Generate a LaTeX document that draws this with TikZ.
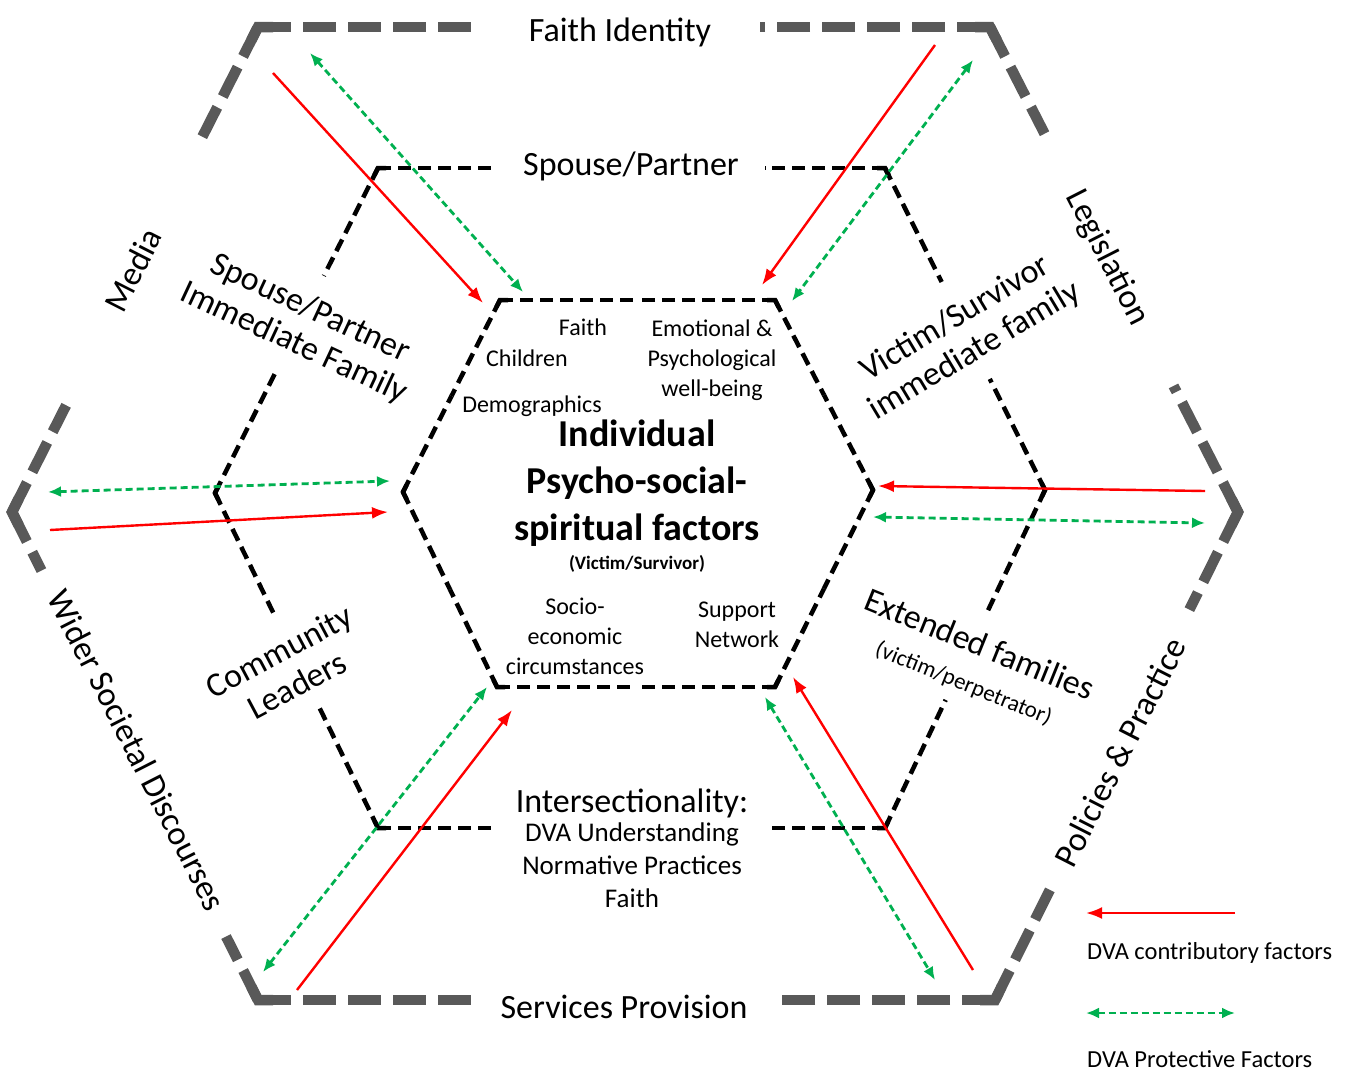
\documentclass[tikz,border=0pt]{standalone}
\usepackage{fontspec}
\setmainfont{Carlito}
\usepackage{tikz}
\usetikzlibrary{calc,arrows.meta}

\definecolor{hexgray}{HTML}{595959}
\definecolor{dvared}{HTML}{FF0000}
\definecolor{dvagreen}{HTML}{00B050}

\begin{document}
\begin{tikzpicture}[x=1pt,y=-1pt,>={Latex[length=16pt,width=12pt]},
						outerhex/.style={
							draw=hexgray,
							line width=10.5pt,
							dash pattern=on 33pt off 12pt
						},
						ringline/.style={
							draw=black,
							line width=4.5pt,
							dash pattern=on 13pt off 7pt
						},
						contrib/.style={->, draw=dvared, line width=2.4pt},
						protect/.style={<->, draw=dvagreen, line width=2.8pt,
							dash pattern=on 7pt off 4pt,
							>={Latex[length=13pt,width=11pt]}},
						ringtext/.style={
							inner sep=0pt,
							align=center,
							font=\fontsize{34}{38}\selectfont
						},
						coretext/.style={
							inner sep=0pt,
							align=center,
							font=\fontsize{24}{30}\selectfont
						},
						legendtext/.style={
							inner sep=0pt,
							anchor=west,
							font=\fontsize{24.5}{30}\selectfont
						}]

						\useasboundingbox [fill=white] (0,0) rectangle (1349,1071);

						%% Corners of the three hexagons
						\coordinate (oTL) at (258,27);
						\coordinate (oTR) at (990,27);
						\coordinate (oR)  at (1238,512);
						\coordinate (oBR) at (995,1000);
						\coordinate (oBL) at (258,1000);
						\coordinate (oL)  at (12,512);

						\coordinate (mTL) at (378,168);
						\coordinate (mTR) at (885,168);
						\coordinate (mR)  at (1045,490);
						\coordinate (mBR) at (885,828);
						\coordinate (mBL) at (378,828);
						\coordinate (mL)  at (215,493);

						\coordinate (iTL) at (500,300);
						\coordinate (iTR) at (775,300);
						\coordinate (iR)  at (873,490);
						\coordinate (iBR) at (775,687);
						\coordinate (iBL) at (497,687);
						\coordinate (iL)  at (403,492);

						%% Where the dashed sides stop (gaps for the labels)
						\coordinate (oTL-a) at ($(oL)!0.76!(oTL)$);
						\coordinate (oTL-b) at ($(oTL)!0.30!(oTR)$);
						\coordinate (oTR-a) at ($(oTL)!0.686!(oTR)$);
						\coordinate (oTR-b) at ($(oTR)!0.22!(oR)$);
						\coordinate (oR-a)  at ($(oTR)!0.74!(oR)$);
						\coordinate (oR-b)  at ($(oR)!0.20!(oBR)$);
						\coordinate (oBR-a) at ($(oR)!0.765!(oBR)$);
						\coordinate (oBR-b) at ($(oBR)!0.305!(oBL)$);
						\coordinate (oBL-a) at ($(oBR)!0.70!(oBL)$);
						\coordinate (oBL-b) at ($(oBL)!0.13!(oL)$);
						\coordinate (oL-a)  at ($(oBL)!0.88!(oL)$);
						\coordinate (oL-b)  at ($(oL)!0.22!(oTL)$);

						\coordinate (mTL-a) at ($(mL)!0.668!(mTL)$);
						\coordinate (mTL-b) at ($(mTL)!0.231!(mTR)$);
						\coordinate (mTR-a) at ($(mTL)!0.763!(mTR)$);
						\coordinate (mTR-b) at ($(mTR)!0.354!(mR)$);
						\coordinate (mR-a)  at ($(mTR)!0.655!(mR)$);
						\coordinate (mR-b)  at ($(mR)!0.373!(mBR)$);
						\coordinate (mBR-a) at ($(mR)!0.621!(mBR)$);
						\coordinate (mBR-b) at ($(mBR)!0.223!(mBL)$);
						\coordinate (mBL-a) at ($(mBR)!0.769!(mBL)$);
						\coordinate (mBL-b) at ($(mBL)!0.36!(mL)$);
						\coordinate (mL-a)  at ($(mBL)!0.636!(mL)$);
						\coordinate (mL-b)  at ($(mL)!0.38!(mTL)$);

						\coordinate (iTL-a) at ($(iL)!0.5!(iTL)$);
						\coordinate (iTL-b) at ($(iTL)!0.5!(iTR)$);
						\coordinate (iTR-a) at ($(iTL)!0.5!(iTR)$);
						\coordinate (iTR-b) at ($(iTR)!0.5!(iR)$);
						\coordinate (iR-a)  at ($(iTR)!0.5!(iR)$);
						\coordinate (iR-b)  at ($(iR)!0.5!(iBR)$);
						\coordinate (iBR-a) at ($(iR)!0.5!(iBR)$);
						\coordinate (iBR-b) at ($(iBR)!0.5!(iBL)$);
						\coordinate (iBL-a) at ($(iBR)!0.5!(iBL)$);
						\coordinate (iBL-b) at ($(iBL)!0.5!(iL)$);
						\coordinate (iL-a)  at ($(iBL)!0.5!(iL)$);
						\coordinate (iL-b)  at ($(iL)!0.5!(iTL)$);

						%% Draw the hexagons, corner by corner
						\foreach \c in {oTL,oTR,oR,oBR,oBL,oL} {
							\draw [outerhex] (\c) -- (\c-a);
							\draw [outerhex] (\c) -- (\c-b);
							\draw [outerhex, solid, miter limit=4] ($(\c)!15pt!(\c-a)$) -- (\c) -- ($(\c)!15pt!(\c-b)$);
						}
						\foreach \c in {mTL,mTR,mR,mBR,mBL,mL,iTL,iTR,iR,iBR,iBL,iL} {
							\draw [ringline] (\c) -- (\c-a);
							\draw [ringline] (\c) -- (\c-b);
							\draw [ringline, solid] ($(\c)!8pt!(\c-a)$) -- (\c) -- ($(\c)!8pt!(\c-b)$);
						}

						%% Outer ring labels
						\node [ringtext] (faithid) at (620,32) {Faith Identity};
						\node [ringtext] (services) at (624,1007) {Services Provision};
						\node [ringtext, rotate=63] (media) at (133,270) {Media};
						\node [ringtext, rotate=-63] (legis) at (1107,258) {Legislation};
						\node [ringtext, rotate=-63] (wider) at (137,750) {Wider Societal Discourses};
						\node [ringtext, rotate=63] (policies) at (1120,752) {Policies \& Practice};

						%% Middle ring labels
						\node [ringtext] (spouse) at (631,166) {Spouse/Partner};
						\node [ringtext, rotate=-25] (spousefam) at (302,326) {Spouse/Partner\\Immediate Family};
						\node [ringtext, rotate=31] (victimfam) at (965,335) {Victim/Survivor\\immediate family};
						\node [ringtext, rotate=28] (community) at (288,668) {Community\\Leaders};
						\node [ringtext, rotate=-22] (extended) at (972,663) {Extended families\\{\fontsize{23}{28}\selectfont (victim/perpetrator)}};
						\node [ringtext] (intersect) at (632,803) {Intersectionality:};
						\node [coretext, font=\fontsize{27}{33}\selectfont, below=1pt] (intersectlist) at (632,822) {DVA Understanding\\Normative Practices\\Faith};

						%% Inner hexagon texts
						\node [coretext] (faithin) at (583,327) {Faith};
						\node [coretext] (children) at (527,358) {Children};
						\node [coretext] (emotional) at (712,360) {Emotional \&\\Psychological\\well-being};
						\node [coretext] (demog) at (532,406) {Demographics};
						\node [coretext, font=\fontsize{38}{47}\bfseries] (individual) at (637,483) {Individual\\Psycho-social-\\spiritual factors};
						\node [coretext, font=\fontsize{19}{23}\bfseries] (victim) at (637,564) {(Victim/Survivor)};
						\node [coretext] (socio) at (575,636) {Socio-\\economic\\circumstances};
						\node [coretext] (support) at (737,625) {Support\\Network};

						%% Arrow end points
						\coordinate (c1s) at (273,73);   \coordinate (c1e) at (483,303);
						\coordinate (c2s) at (935,45);   \coordinate (c2e) at (762,285);
						\coordinate (c3s) at (50,530);   \coordinate (c3e) at (388,512);
						\coordinate (c4s) at (1205,491); \coordinate (c4e) at (878,486);
						\coordinate (c5s) at (297,990);  \coordinate (c5e) at (512,710);
						\coordinate (c6s) at (973,970);  \coordinate (c6e) at (793,677);

						\coordinate (p1a) at (310,53);   \coordinate (p1b) at (523,292);
						\coordinate (p2a) at (973,60);   \coordinate (p2b) at (792,301);
						\coordinate (p3a) at (48,492);   \coordinate (p3b) at (390,481);
						\coordinate (p4a) at (873,517);  \coordinate (p4b) at (1205,523);
						\coordinate (p5a) at (263,972);  \coordinate (p5b) at (487,687);
						\coordinate (p6a) at (765,697);  \coordinate (p6b) at (935,980);

						%% Contributory (red) and protective (green) arrows
						\foreach \i in {1,...,6}
							\draw [contrib] (c\i s) -- (c\i e);
						\foreach \i in {1,...,6}
							\draw [protect] (p\i a) -- (p\i b);

						%% Legend
						\coordinate (legRs) at (1235,913); \coordinate (legRe) at (1086,913);
						\coordinate (legGa) at (1086,1013); \coordinate (legGb) at (1235,1013);
						\draw [contrib] (legRs) -- (legRe);
						\draw [protect] (legGa) -- (legGb);
						\node [legendtext] (legcontrib) at (1087,953) {DVA contributory factors};
						\node [legendtext] (legprotect) at (1087,1059) {DVA Protective Factors};
					\end{tikzpicture}
\end{document}
